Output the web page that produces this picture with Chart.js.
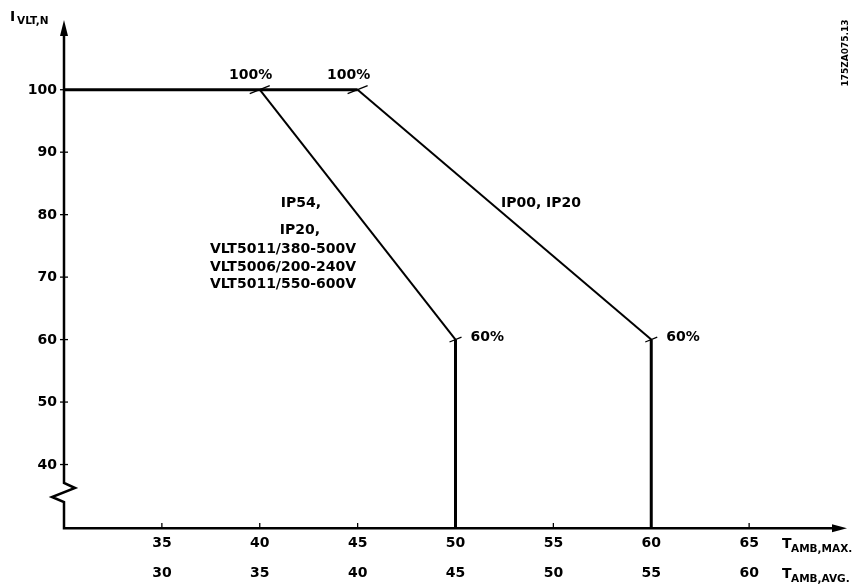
<!DOCTYPE html>
<html><head><meta charset="utf-8">
<script src="https://cdn.jsdelivr.net/npm/chart.js@4/dist/chart.umd.min.js"></script>
<style>html,body{margin:0;padding:0;background:#fff}#wrap{width:859px;height:584px;position:relative}</style>
</head><body><div id="wrap"><canvas id="c"></canvas></div>
<script>
// ---- data ----
const flatX = [30, 45];
const flatY = [100, 100];
const curveAX = [40, 50, 50];
const curveAY = [100, 60, 30];
const curveBX = [45, 60, 60];
const curveBY = [100, 60, 30];
const yTicks = [40, 50, 60, 70, 80, 90, 100];
const xTicksMax = [35, 40, 45, 50, 55, 60, 65];
const xTicksAvg = [30, 35, 40, 45, 50, 55, 60];
const cornerPoints = [[40, 100], [45, 100], [50, 60], [60, 60]];
const cornerLabels = ['100%', '100%', '60%', '60%'];
const curveALabel = ['IP54,', 'IP20,', 'VLT5011/380-500V', 'VLT5006/200-240V', 'VLT5011/550-600V'];
const curveBLabel = ['IP00, IP20'];

const pts = (xs, ys) => xs.map((x, i) => ({x, y: ys[i]}));
const F = "'DejaVu Sans'";

const drawPlugin = {
  id: 'draw',
  afterDatasetsDraw(chart) {
    const c = chart.ctx, xs = chart.scales.x, ys = chart.scales.y;
    const L = xs.left, R = xs.right, T = ys.top, B = ys.bottom;
    c.save();
    c.strokeStyle = '#000'; c.fillStyle = '#000'; c.lineCap = 'butt';
    // y axis with break
    c.lineWidth = 2.5;
    c.beginPath();
    c.moveTo(L, T + 12); c.lineTo(L, 483);
    c.lineTo(L + 11, 488); c.lineTo(L - 12, 497); c.lineTo(L, 502);
    c.lineTo(L, B + 1.2);
    c.lineTo(R - 10, B + 1.2);
    c.stroke();
    // arrows
    c.beginPath(); c.moveTo(L, T - 1); c.lineTo(L - 4, T + 15); c.lineTo(L + 4, T + 15); c.closePath(); c.fill();
    c.beginPath(); c.moveTo(R, B + 1.2); c.lineTo(R - 15, B - 2.8); c.lineTo(R - 15, B + 5.2); c.closePath(); c.fill();
    // y ticks
    c.lineWidth = 1.3;
    c.font = `bold 14px ${F}`; c.textAlign = 'right'; c.textBaseline = 'middle';
    yTicks.forEach(v => {
      const y = ys.getPixelForValue(v);
      c.beginPath(); c.moveTo(L - 4, y); c.lineTo(L + 4, y); c.stroke();
      c.fillText(String(v), L - 7, y + 0.5);
    });
    // x ticks
    c.textAlign = 'center';
    xTicksMax.forEach((v, i) => {
      const x = xs.getPixelForValue(v);
      c.beginPath(); c.moveTo(x, B - 4); c.lineTo(x, B + 2); c.stroke();
      c.fillText(String(v), x, 543.5);
      c.fillText(String(xTicksAvg[i]), x, 573.5);
    });
    // axis titles
    c.textAlign = 'left'; c.textBaseline = 'alphabetic';
    c.font = `bold 14px ${F}`; c.fillText('I', 10, 21);
    c.font = `bold 10.5px ${F}`; c.fillText('VLT,N', 17, 24);
    c.font = `bold 14px ${F}`; c.fillText('T', 782, 548);
    c.font = `bold 10.5px ${F}`; c.fillText('AMB,MAX.', 791, 552);
    c.font = `bold 14px ${F}`; c.fillText('T', 782, 578);
    c.font = `bold 10.5px ${F}`; c.fillText('AMB,AVG.', 791, 582);
    // corner markers
    c.lineWidth = 1.3;
    cornerPoints.forEach(([vx, vy], i) => {
      const x = xs.getPixelForValue(vx), y = ys.getPixelForValue(vy);
      const len = vy === 100 ? 10 : 6;
      c.beginPath(); c.moveTo(x - len, y + len * 0.4); c.lineTo(x + len, y - len * 0.4); c.stroke();
      c.font = `bold 14px ${F}`;
      if (vy === 100) { c.textAlign = 'center'; c.textBaseline = 'middle'; c.fillText(cornerLabels[i], x - 9, y - 14); }
      else { c.textAlign = 'left'; c.textBaseline = 'middle'; c.fillText(cornerLabels[i], x + 15, y - 2); }
    });
    // curve labels
    c.font = `bold 14px ${F}`; c.textAlign = 'center'; c.textBaseline = 'middle';
    const aY = [203, 230, 249, 267, 284], aX = [301, 300, 283, 283, 283];
    curveALabel.forEach((t, i) => c.fillText(t, aX[i], aY[i]));
    c.fillText(curveBLabel[0], 541, 203);
    // id
    c.save(); c.translate(846, 53); c.rotate(-Math.PI / 2);
    c.font = `bold 9px ${F}`; c.textAlign = 'center'; c.textBaseline = 'middle';
    c.fillText('175ZA075.13', 0, 0); c.restore();
    c.restore();
  }
};

const common = {borderColor: '#000', pointRadius: 0, fill: false, tension: 0, clip: false,
  segment: {borderWidth: ctx => (ctx.p0.parsed.x === ctx.p1.parsed.x || ctx.p0.parsed.y === ctx.p1.parsed.y) ? 3 : 2}};

new Chart(document.getElementById('c'), {
  type: 'line',
  data: {datasets: [
    Object.assign({data: pts(flatX, flatY), borderWidth: 3}, common),
    Object.assign({data: pts(curveAX, curveAY), borderWidth: 2}, common),
    Object.assign({data: pts(curveBX, curveBY), borderWidth: 2}, common)
  ]},
  options: {
    responsive: true, maintainAspectRatio: false, animation: false,
    layout: {padding: {left: 64, right: 12, top: 21, bottom: 57}},
    plugins: {legend: {display: false}, tooltip: {enabled: false}},
    scales: {
      x: {type: 'linear', min: 30, max: 70, display: false},
      y: {type: 'linear', min: 30, max: 111, display: false}
    }
  },
  plugins: [drawPlugin]
});
</script></body></html>
